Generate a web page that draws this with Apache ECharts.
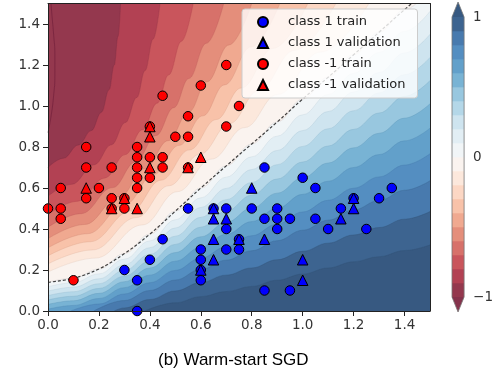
<!DOCTYPE html>
<html>
<head>
<meta charset="utf-8">
<script src="https://cdn.jsdelivr.net/npm/echarts@6/dist/echarts.min.js"></script>
<style>
  html, body { margin: 0; padding: 0; background: #fff; }
  #chart { width: 496px; height: 375px; }
</style>
</head>
<body>
<div id="chart"></div>
<script>
// 散点数据
const class1Train = [
  [0.55, 0.5], [0.65, 0.5], [0.7, 0.5], [0.8, 0.5], [0.9, 0.5], [1.15, 0.5],
  [0.85, 0.45], [0.9, 0.45], [0.95, 0.45], [1.05, 0.45],
  [0.7, 0.4], [0.9, 0.4], [1.1, 0.4], [1.25, 0.4],
  [0.45, 0.35], [0.75, 0.35],
  [0.6, 0.3], [0.7, 0.3], [0.75, 0.3],
  [0.4, 0.25], [0.6, 0.25],
  [0.3, 0.2], [0.6, 0.2],
  [0.35, 0.15], [0.6, 0.15],
  [0.35, 0.0],
  [0.85, 0.7], [1.0, 0.65], [1.05, 0.6], [1.35, 0.6], [1.2, 0.55], [1.3, 0.55],
  [0.85, 0.1], [0.95, 0.1]
];
const class1Val = [
  [0.8, 0.6], [0.65, 0.5], [0.65, 0.45], [0.7, 0.45], [0.65, 0.35], [0.75, 0.35],
  [0.85, 0.35], [0.65, 0.25], [0.6, 0.2], [1.2, 0.55], [1.2, 0.5], [1.15, 0.45],
  [1.0, 0.25], [1.0, 0.15]
];
const classNeg1Train = [
  [0.7, 1.2], [0.6, 1.1], [0.45, 1.05], [0.75, 1.0], [0.55, 0.95], [0.7, 0.9], [0.4, 0.9],
  [0.5, 0.85], [0.55, 0.85], [0.15, 0.8], [0.35, 0.8],
  [0.35, 0.75], [0.4, 0.75], [0.45, 0.75],
  [0.15, 0.7], [0.25, 0.7], [0.35, 0.7], [0.45, 0.7], [0.55, 0.7],
  [0.35, 0.65], [0.4, 0.65], [0.35, 0.6], [0.05, 0.6], [0.2, 0.6],
  [0.15, 0.55], [0.25, 0.55], [0.3, 0.55],
  [0.0, 0.5], [0.05, 0.5], [0.25, 0.5], [0.3, 0.5], [0.05, 0.45], [0.1, 0.15]
];
const classNeg1Val = [
  [0.4, 0.9], [0.4, 0.85], [0.6, 0.75], [0.4, 0.7], [0.55, 0.7],
  [0.15, 0.6], [0.3, 0.55], [0.25, 0.5], [0.35, 0.5]
];

// 决策边界 f = 0（虚线）
const boundary = [
  [0, 0.14], [0.1, 0.16], [0.2, 0.205], [0.3, 0.28], [0.4, 0.375], [0.5, 0.487],
  [0.6, 0.6], [0.7, 0.708], [0.8, 0.815], [0.9, 0.922], [1.0, 1.034], [1.1, 1.14],
  [1.2, 1.25], [1.3, 1.36], [1.4, 1.47], [1.5, 1.575]
];

// 蓝色一侧等值线，f = 0.1 ... 1.0
const blueLevels = [0, 0.1, 0.2, 0.3, 0.4, 0.5, 0.6, 0.7, 0.8, 0.9, 1.0];
const blueContours = [
  boundary,
  [[0, 0.118], [0.1, 0.138], [0.2, 0.181], [0.3, 0.253], [0.4, 0.342], [0.5, 0.445], [0.6, 0.552], [0.7, 0.653], [0.8, 0.752], [0.9, 0.853], [1.0, 0.957], [1.1, 1.056], [1.2, 1.159], [1.3, 1.261], [1.4, 1.364], [1.5, 1.462]],
  [[0, 0.097], [0.1, 0.116], [0.2, 0.157], [0.3, 0.225], [0.4, 0.309], [0.5, 0.405], [0.6, 0.505], [0.7, 0.598], [0.8, 0.69], [0.9, 0.783], [1.0, 0.88], [1.1, 0.973], [1.2, 1.068], [1.3, 1.163], [1.4, 1.259], [1.5, 1.35]],
  [[0, 0.075], [0.1, 0.094], [0.2, 0.133], [0.3, 0.198], [0.4, 0.276], [0.5, 0.365], [0.6, 0.457], [0.7, 0.543], [0.8, 0.627], [0.9, 0.714], [1.0, 0.803], [1.1, 0.889], [1.2, 0.977], [1.3, 1.064], [1.4, 1.153], [1.5, 1.237]],
  [[0, 0.054], [0.1, 0.072], [0.2, 0.11], [0.3, 0.17], [0.4, 0.243], [0.5, 0.325], [0.6, 0.409], [0.7, 0.487], [0.8, 0.565], [0.9, 0.644], [1.0, 0.727], [1.1, 0.805], [1.2, 0.886], [1.3, 0.966], [1.4, 1.047], [1.5, 1.124]],
  [[0, 0.032], [0.1, 0.05], [0.2, 0.086], [0.3, 0.143], [0.4, 0.21], [0.5, 0.285], [0.6, 0.362], [0.7, 0.432], [0.8, 0.502], [0.9, 0.575], [1.0, 0.65], [1.1, 0.722], [1.2, 0.796], [1.3, 0.867], [1.4, 0.941], [1.5, 1.011]],
  [[0, 0.009], [0.1, 0.027], [0.2, 0.061], [0.3, 0.114], [0.4, 0.175], [0.5, 0.243], [0.6, 0.311], [0.7, 0.374], [0.8, 0.436], [0.9, 0.501], [1.0, 0.569], [1.1, 0.633], [1.2, 0.7], [1.3, 0.763], [1.4, 0.83], [1.5, 0.892]],
  [[0.09, 0], [0.2, 0.034], [0.3, 0.083], [0.4, 0.138], [0.5, 0.198], [0.6, 0.258], [0.7, 0.313], [0.8, 0.367], [0.9, 0.424], [1.0, 0.483], [1.1, 0.54], [1.2, 0.599], [1.3, 0.654], [1.4, 0.712], [1.5, 0.767]],
  [[0.18, 0], [0.3, 0.051], [0.4, 0.1], [0.5, 0.151], [0.6, 0.203], [0.7, 0.248], [0.8, 0.294], [0.9, 0.343], [1.0, 0.394], [1.1, 0.443], [1.2, 0.493], [1.3, 0.539], [1.4, 0.589], [1.5, 0.635]],
  [[0.26, 0], [0.3, 0.015], [0.4, 0.056], [0.5, 0.098], [0.6, 0.139], [0.7, 0.175], [0.8, 0.21], [0.9, 0.25], [1.0, 0.291], [1.1, 0.331], [1.2, 0.371], [1.3, 0.407], [1.4, 0.448], [1.5, 0.485]],
  [[0.38, 0], [0.5, 0.04], [0.6, 0.07], [0.7, 0.095], [0.8, 0.12], [0.9, 0.15], [1.0, 0.18], [1.1, 0.21], [1.2, 0.24], [1.3, 0.265], [1.4, 0.295], [1.5, 0.322]]
];

// 红色一侧等值线，f = -0.1 ... -0.9
const redLevels = [0, -0.1, -0.2, -0.3, -0.4, -0.5, -0.6, -0.7, -0.8, -0.9];
const redContours = [
  boundary,
  [[0, 0.19], [0.186, 0.258], [0.371, 0.42], [0.508, 0.582], [0.642, 0.741], [0.773, 0.895], [0.901, 1.056], [1.07, 1.263], [1.26, 1.5]],
  [[0, 0.23], [0.176, 0.298], [0.348, 0.456], [0.475, 0.611], [0.597, 0.765], [0.714, 0.915], [0.825, 1.073], [0.969, 1.272], [1.13, 1.5]],
  [[0, 0.269], [0.166, 0.338], [0.327, 0.489], [0.444, 0.638], [0.556, 0.786], [0.661, 0.934], [0.759, 1.088], [0.884, 1.281], [1.02, 1.5]],
  [[0, 0.308], [0.155, 0.377], [0.305, 0.522], [0.414, 0.665], [0.515, 0.808], [0.608, 0.952], [0.693, 1.103], [0.798, 1.289], [0.91, 1.5]],
  [[0, 0.353], [0.144, 0.422], [0.282, 0.559], [0.381, 0.694], [0.472, 0.831], [0.553, 0.971], [0.624, 1.118], [0.711, 1.298], [0.8, 1.5]],
  [[0, 0.409], [0.13, 0.475], [0.254, 0.602], [0.344, 0.727], [0.424, 0.856], [0.494, 0.992], [0.553, 1.134], [0.622, 1.306], [0.69, 1.5]],
  [[0, 0.47], [0.115, 0.535], [0.224, 0.649], [0.303, 0.763], [0.371, 0.884], [0.429, 1.014], [0.474, 1.152], [0.524, 1.316], [0.57, 1.5]],
  [[0, 0.56], [0.093, 0.618], [0.182, 0.714], [0.249, 0.811], [0.304, 0.92], [0.349, 1.042], [0.381, 1.173], [0.413, 1.327], [0.44, 1.5]],
  [[0, 0.7], [0.06, 0.745], [0.12, 0.81], [0.17, 0.88], [0.21, 0.97], [0.24, 1.08], [0.26, 1.2], [0.275, 1.34], [0.285, 1.5]]
];

// f = -1 等值线（贴近左边缘）
const edgeContour = [[0, 0.87], [0.012, 0.95], [0.022, 1.05], [0.027, 1.15], [0.027, 1.25], [0.022, 1.35], [0.015, 1.45], [0.012, 1.5]];

// 刻度
const xTicks = [0, 0.2, 0.4, 0.6, 0.8, 1.0, 1.2, 1.4];
const yTicks = [0, 0.2, 0.4, 0.6, 0.8, 1.0, 1.2, 1.4];
const cbarLevels = [-1, -0.9, -0.8, -0.7, -0.6, -0.5, -0.4, -0.3, -0.2, -0.1, 0, 0.1, 0.2, 0.3, 0.4, 0.5, 0.6, 0.7, 0.8, 0.9, 1];
const cbarTicks = [-1, 0, 1];

// RdBu 色表，alpha 0.8 叠在白底上
const RDBU = [[103, 0, 31], [178, 24, 43], [214, 96, 77], [244, 165, 130], [253, 219, 199], [247, 247, 247],
  [209, 229, 240], [146, 197, 222], [67, 147, 195], [33, 102, 172], [5, 48, 97]];
const ALPHA = 0.8;

function rdbuRgb(t) {
  t = Math.max(0, Math.min(1, t));
  const p = t * (RDBU.length - 1);
  const i = Math.min(Math.floor(p), RDBU.length - 2);
  const f = p - i;
  const c = RDBU[i].map((v, k) => v + (RDBU[i + 1][k] - v) * f);
  return c.map(v => Math.round(v * ALPHA + 255 * (1 - ALPHA)));
}

function valueColor(v) {
  return 'rgb(' + rdbuRgb((v + 1) / 2).join(',') + ')';
}

// 等值线边缘的细线，比色带略深
function edgeColor(v) {
  return 'rgba(' + rdbuRgb((v + 1) / 2).map(c => Math.round(c * 0.9)).join(',') + ',0.6)';
}

function areaSeries(points, level, bandValue, origin) {
  return {
    type: 'line',
    data: points,
    smooth: 0.4,
    smoothMonotone: 'x',
    symbol: 'none',
    silent: true,
    lineStyle: { width: 0.6, color: edgeColor(level) },
    areaStyle: { color: valueColor(bandValue), opacity: 1, origin: origin },
    z: 1
  };
}

function scatterSeries(name, data, symbol, color, size) {
  return {
    name: name,
    type: 'scatter',
    data: data,
    symbol: symbol,
    symbolSize: size,
    clip: true,
    itemStyle: { color: color, borderColor: '#000', borderWidth: 1, opacity: 1 },
    z: 4
  };
}

const EXT = 0.107; // 色条三角延伸长度（轴单位）

function renderColorbar(params, api) {
  const lo = api.value(0);
  const hi = api.value(1);
  const kind = api.value(2);
  if (kind === 0) {
    const p1 = api.coord([0, hi]);
    const p2 = api.coord([1, lo]);
    return {
      type: 'rect',
      shape: { x: p1[0], y: p1[1] - 0.3, width: p2[0] - p1[0], height: p2[1] - p1[1] + 0.6 },
      style: { fill: valueColor((lo + hi) / 2) }
    };
  }
  if (kind === 1 || kind === -1) {
    const v = kind === 1 ? 1 : -1;
    return {
      type: 'polygon',
      shape: { points: [api.coord([0, v]), api.coord([1, v]), api.coord([0.5, v + kind * EXT])] },
      style: { fill: valueColor(v) }
    };
  }
  return {
    type: 'polygon',
    shape: {
      points: [api.coord([0, -1]), api.coord([0.5, -1 - EXT]), api.coord([1, -1]),
        api.coord([1, 1]), api.coord([0.5, 1 + EXT]), api.coord([0, 1])]
    },
    style: { fill: 'none', stroke: '#777', lineWidth: 0.8 }
  };
}

function buildSeries() {
  const series = [];
  // 蓝色区域：自下而上逐层覆盖
  blueLevels.forEach(function (lv, i) {
    const band = lv >= 1 ? 1 : lv + 0.05;
    series.push(areaSeries(blueContours[i], Math.min(lv + 0.1, 1), band, 'start'));
  });
  // 红色区域：自上而下逐层覆盖
  redLevels.forEach(function (lv, i) {
    series.push(areaSeries(redContours[i], lv - 0.1, lv - 0.05, 'end'));
  });
  series.push({
    type: 'line', data: edgeContour, smooth: true, symbol: 'none', silent: true,
    lineStyle: { color: 'rgba(105,25,55,0.55)', width: 1 }, z: 2
  });
  // 决策边界
  series.push({
    type: 'line', data: boundary, smooth: 0.4, symbol: 'none', silent: true,
    lineStyle: { color: 'rgba(30,30,30,0.85)', width: 1.2, type: [3, 2] }, z: 3
  });
  series.push(scatterSeries('class 1 train', class1Train, 'circle', '#0000ff', 9.5));
  series.push(scatterSeries('class 1 validation', class1Val, 'triangle', '#0000ff', 10.5));
  series.push(scatterSeries('class -1 train', classNeg1Train, 'circle', '#ff0000', 9.5));
  series.push(scatterSeries('class -1 validation', classNeg1Val, 'triangle', '#ff0000', 10.5));

  // 色条
  const cbarData = [];
  for (let i = 0; i < cbarLevels.length - 1; i++) {
    cbarData.push([cbarLevels[i], cbarLevels[i + 1], 0]);
  }
  cbarData.push([1, 1, 1]);
  cbarData.push([-1, -1, -1]);
  cbarData.push([-1, 1, 2]);
  series.push({
    type: 'custom', xAxisIndex: 2, yAxisIndex: 2, silent: true,
    data: cbarData, renderItem: renderColorbar, z: 2
  });
  return series;
}

const tickFont = { fontFamily: 'DejaVu Sans', fontSize: 13.5, color: '#333' };
const frameLine = { show: true, onZero: false, lineStyle: { color: '#222', width: 1 } };

function getChartOptions() {
  return {
    animation: false,
    title: {
      text: '(b) Warm-start SGD',
      left: 158,
      top: 352,
      padding: 0,
      textStyle: { fontFamily: 'Liberation Sans', fontSize: 17, fontWeight: 'normal', color: '#000' }
    },
    legend: {
      data: ['class 1 train', 'class 1 validation', 'class -1 train', 'class -1 validation'],
      orient: 'vertical',
      left: 242,
      top: 9,
      padding: [6, 12, 6, 15],
      itemGap: 7,
      itemWidth: 10,
      itemHeight: 10,
      selectedMode: false,
      backgroundColor: 'rgba(255,255,255,0.8)',
      borderColor: '#ccc',
      borderWidth: 1,
      borderRadius: 3,
      textStyle: { fontFamily: 'DejaVu Sans', fontSize: 13, color: '#222', padding: [0, 0, 0, 15], lineHeight: 14 },
      z: 10
    },
    grid: [
      { left: 48, top: 3.5, width: 382, height: 307.5 },
      { left: 452, top: 17, width: 14.5, height: 280 }
    ],
    xAxis: [
      {
        type: 'value', gridIndex: 0, min: 0, max: 1.5, position: 'bottom', z: 5,
        axisLine: frameLine,
        axisTick: { show: true, length: 5, customValues: xTicks, lineStyle: { color: '#222' } },
        axisLabel: Object.assign({ customValues: xTicks, margin: 7, formatter: v => v.toFixed(1) }, tickFont),
        splitLine: { show: false }
      },
      {
        type: 'value', gridIndex: 0, min: 0, max: 1.5, position: 'top', z: 5,
        axisLine: frameLine, axisTick: { show: false }, axisLabel: { show: false }, splitLine: { show: false }
      },
      { type: 'value', gridIndex: 1, min: 0, max: 1, show: false }
    ],
    yAxis: [
      {
        type: 'value', gridIndex: 0, min: 0, max: 1.5, position: 'left', z: 5,
        axisLine: frameLine,
        axisTick: { show: true, length: 5, customValues: yTicks, lineStyle: { color: '#222' } },
        axisLabel: Object.assign({ customValues: yTicks, margin: 8, formatter: v => v.toFixed(1) }, tickFont),
        splitLine: { show: false }
      },
      {
        type: 'value', gridIndex: 0, min: 0, max: 1.5, position: 'right', z: 5,
        axisLine: frameLine, axisTick: { show: false }, axisLabel: { show: false }, splitLine: { show: false }
      },
      {
        type: 'value', gridIndex: 1, min: -1, max: 1, position: 'right',
        axisLine: { show: false },
        axisTick: { show: true, length: 5, customValues: cbarTicks, lineStyle: { color: '#333' } },
        axisLabel: Object.assign({ customValues: cbarTicks, margin: 9, formatter: v => (v < 0 ? '\u2212' + Math.abs(v) : String(v)) }, tickFont),
        splitLine: { show: false }
      }
    ],
    series: buildSeries()
  };
}

const chart = echarts.init(document.getElementById('chart'), null, { renderer: 'canvas' });
chart.setOption(getChartOptions());
</script>
</body>
</html>
